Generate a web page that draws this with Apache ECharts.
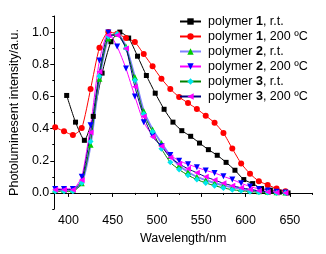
<!DOCTYPE html>
<html>
<head>
<meta charset="utf-8">
<script src="https://cdn.jsdelivr.net/npm/echarts@6/dist/echarts.min.js"></script>
<style>
	html, body { margin: 0; padding: 0; background: #fff; }
	#chart { width: 326px; height: 254px; }
</style>
</head>
<body>
<div id="chart"></div>
<script>
	// wavelengths (nm)
	var wlBlack = [398, 408, 418, 428, 438, 448, 458, 468, 478, 488, 498, 508, 518, 528, 538, 548, 558, 568, 578, 588, 598, 608, 618, 628, 638, 648]
	var wl = [385, 395, 405, 415, 425, 435, 445, 455, 465, 475, 485, 495, 505, 515, 525, 535, 545, 555, 565, 575, 585, 595, 605, 615, 625, 635, 645]

	// PL intensity
	var p1rt = [0.606, 0.44, 0.327, 0.476, 0.745, 0.94, 1.0, 0.963, 0.85, 0.73, 0.62, 0.52, 0.44, 0.387, 0.352, 0.31, 0.269, 0.234, 0.19, 0.141, 0.083, 0.058, 0.027, 0.017, 0.005, 0.0]
	var p1hot = [0.408, 0.383, 0.36, 0.403, 0.646, 0.903, 1.0, 0.99, 0.963, 0.938, 0.863, 0.787, 0.71, 0.646, 0.596, 0.559, 0.522, 0.48, 0.436, 0.373, 0.276, 0.183, 0.119, 0.073, 0.05, 0.027, 0.01]
	var p2rt = [0.02, 0.02, 0.02, 0.06, 0.3, 0.71, 0.96, 0.99, 0.91, 0.72, 0.51, 0.395, 0.31, 0.23, 0.17, 0.13, 0.1, 0.08, 0.062, 0.047, 0.035, 0.025, 0.017, 0.011, 0.007, 0.004, 0.002]
	var p2hot = [0.025, 0.025, 0.025, 0.1, 0.42, 0.823, 0.998, 0.91, 0.773, 0.6, 0.439, 0.356, 0.29, 0.235, 0.2, 0.178, 0.159, 0.14, 0.124, 0.103, 0.083, 0.06, 0.04, 0.025, 0.015, 0.008, 0.003]
	var p3rt = [0.01, 0.01, 0.01, 0.062, 0.32, 0.726, 0.973, 0.99, 0.9, 0.7, 0.49, 0.38, 0.275, 0.19, 0.145, 0.11, 0.083, 0.062, 0.045, 0.031, 0.02, 0.014, 0.008, 0.004, 0.002, 0.0, 0.0]
	var p3hot = [0.02, 0.02, 0.02, 0.08, 0.375, 0.753, 0.98, 0.98, 0.898, 0.66, 0.475, 0.35, 0.29, 0.22, 0.18, 0.15, 0.125, 0.1, 0.08, 0.06, 0.045, 0.032, 0.022, 0.013, 0.006, 0.002, 0.0]

	var xLabels = [400, 450, 500, 550, 600, 650]
	var xMinor = [425, 475, 525, 575, 625, 675]
	var yLabels = [0, 0.2, 0.4, 0.6, 0.8, 1.0]
	var yMinor = [-0.1, 0.1, 0.3, 0.5, 0.7, 0.9, 1.1]

	var font = 'Liberation Sans, Arial, sans-serif'

	function pairs(xs, ys) {
		return xs.map(function (x, i) { return [x, ys[i]] })
	}

	function mkSeries(name, xs, ys, symbol, markerColor, lineColor, lineWidth) {
		return {
			name: name,
			type: 'line',
			data: pairs(xs, ys),
			symbol: symbol,
			symbolSize: symbol === 'rect' ? 5 : 6,
			smooth: 0.2,
			itemStyle: { color: markerColor },
			lineStyle: { color: lineColor, width: lineWidth || 1 },
			emphasis: { disabled: true }
		}
	}

	var rich = {
		n: { fontSize: 12.5, fontFamily: font, color: '#000' },
		b: { fontSize: 12.5, fontFamily: font, color: '#000', fontWeight: 'bold' }
	}

	function legendText(name) {
		// "polymer 1, r.t." -> bold number
		var m = name.match(/^(polymer )(\d)(.*)$/)
		return '{n|' + m[1] + '}{b|' + m[2] + '}{n|' + m[3] + '}'
	}

	var option = {
		animation: false,
		textStyle: { fontFamily: font },
		grid: { left: 51, top: 16, right: 14, bottom: 45 },
		legend: {
			orient: 'vertical',
			left: 174,
			top: 10,
			itemWidth: 21,
			itemHeight: 8,
			itemGap: 2,
			formatter: legendText,
			textStyle: { rich: rich, padding: [0, 0, 0, 2] },
			data: ['polymer 1, r.t.', 'polymer 1, 200 ºC', 'polymer 2, r.t.', 'polymer 2, 200 ºC', 'polymer 3, r.t.', 'polymer 3, 200 ºC']
		},
		xAxis: [{
			type: 'value',
			min: 384,
			max: 675,
			name: 'Wavelength/nm',
			nameLocation: 'middle',
			nameGap: 22,
			nameTextStyle: { fontSize: 12.5, color: '#000', fontFamily: font },
			axisLine: { lineStyle: { color: '#000', width: 1 } },
			axisTick: { show: true, length: 4, customValues: xLabels, lineStyle: { color: '#000' } },
			axisLabel: { customValues: xLabels, fontSize: 12.5, color: '#000', margin: 5 },
			splitLine: { show: false }
		}, {
			type: 'value',
			min: 384,
			max: 675,
			position: 'bottom',
			axisLine: { show: false },
			axisTick: { show: true, length: 2, customValues: xMinor, lineStyle: { color: '#000' } },
			axisLabel: { show: false },
			splitLine: { show: false }
		}],
		yAxis: [{
			type: 'value',
			min: -0.1,
			max: 1.1,
			name: 'Photoluminesent intensity/a.u.',
			nameLocation: 'middle',
			nameGap: 30,
			nameTextStyle: { fontSize: 12.5, color: '#000', fontFamily: font },
			axisLine: { show: true, lineStyle: { color: '#000', width: 1 } },
			axisTick: { show: true, length: 4, customValues: yLabels, lineStyle: { color: '#000' } },
			axisLabel: {
				customValues: yLabels,
				fontSize: 12.5,
				color: '#000',
				margin: 5,
				formatter: function (v) { return v.toFixed(1) }
			},
			splitLine: { show: false }
		}, {
			type: 'value',
			min: -0.1,
			max: 1.1,
			position: 'left',
			axisLine: { show: false },
			axisTick: { show: true, length: 2, customValues: yMinor, lineStyle: { color: '#000' } },
			axisLabel: { show: false },
			splitLine: { show: false }
		}],
		series: [
			mkSeries('polymer 1, r.t.', wlBlack, p1rt, 'rect', '#000000', '#000000'),
			mkSeries('polymer 1, 200 ºC', wl, p1hot, 'circle', '#ff0000', '#ff0000'),
			mkSeries('polymer 2, r.t.', wl, p2rt, 'triangle', '#00cc00', '#8080ff', 2),
			mkSeries('polymer 2, 200 ºC', wl, p2hot, 'path://M0,0 L10,0 L5,9 Z', '#0000ff', '#ff00ff'),
			mkSeries('polymer 3, r.t.', wl, p3rt, 'diamond', '#00e5ee', '#008000'),
			mkSeries('polymer 3, 200 ºC', wl, p3hot, 'path://M0,5 L9,0 L9,10 Z', '#ff00ff', '#000080')
		]
	}

	var chart = echarts.init(document.getElementById('chart'), null, { renderer: 'canvas' })
	chart.setOption(option)
</script>
</body>
</html>
